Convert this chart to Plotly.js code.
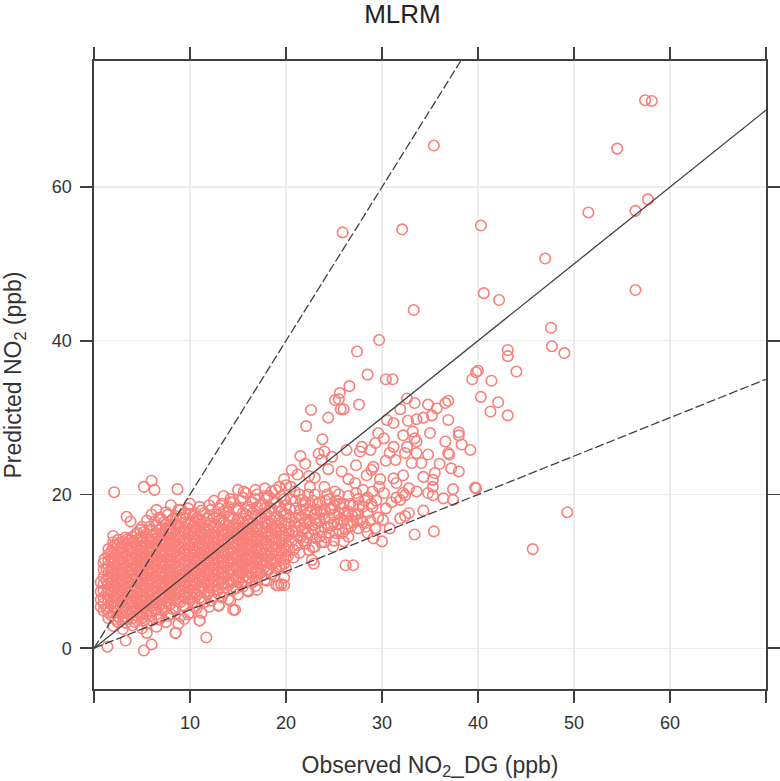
<!DOCTYPE html>
<html><head><meta charset="utf-8">
<script src="https://cdn.plot.ly/plotly-3.0.1.min.js"></script>
<style>html,body{margin:0;padding:0;background:#fff}</style></head>
<body><div id="chart" style="width:780px;height:781px"></div>
<script>
// Dense cloud, read column by column: observed value, then predicted values in that column
const denseObs = [0.7,1,1.5,2,2.5,3,3.5,4,4.5,5,5.5,6,6.5,7,7.5,8,8.5,9,9.5,10,10.5,11,11.5,12,12.5,13,13.5,14,14.5,15,15.5,16,16.5,17,17.5,18,18.5,19,19.5,20];
const densePred = [
[5.4,6.3,7.4,8.6],
[4.9,5.8,6.6,7.5,8.4,9.3,10.2,11.1],
[3.9,4.7,5.4,6.2,6.9,7.7,8.4,9.2,9.9,10.7,11.4,12.2,12.9],
[2.9,4.6,5.4,6.1,6.8,7.5,8.2,8.9,9.6,10.3,11,11.7,12.4,13.1,13.8],
[3.4,4.2,5,5.7,6.4,7.1,7.8,8.5,9.2,9.9,10.6,11.3,12,12.7,13.4,14.1],
[2.5,4.1,4.8,5.5,6.2,6.9,7.6,8.3,9,9.7,10.4,11.1,11.8,12.5,13.2,13.8],
[3.8,4.5,5.2,5.9,6.6,7.3,8,8.7,9.4,10.1,10.8,11.5,12.2,12.9,13.6,14.2],
[3,3.9,4.7,5.4,6.1,6.8,7.5,8.2,8.9,9.6,10.3,11,11.7,12.4,13.1,13.8,14.5],
[3.6,4.3,5,5.7,6.4,7.1,7.8,8.5,9.2,9.9,10.6,11.3,12,12.7,13.4,14.1,15],
[2.6,4,4.7,5.4,6.1,6.8,7.5,8.2,8.9,9.6,10.3,11,11.7,12.4,13.1,13.8,14.5,15.8],
[3.2,4.4,5.1,5.8,6.5,7.2,7.9,8.6,9.3,10,10.7,11.4,12.1,12.8,13.5,14.2,14.9,16.6],
[3.6,4.8,5.5,6.2,6.9,7.6,8.3,9,9.7,10.4,11.1,11.8,12.5,13.2,13.9,14.6,15.4,17.4],
[2.8,4.4,5.2,5.9,6.6,7.3,8,8.7,9.4,10.1,10.8,11.5,12.2,12.9,13.6,14.3,15,16,18],
[4,5,5.7,6.4,7.1,7.8,8.5,9.2,9.9,10.6,11.3,12,12.7,13.4,14.1,14.8,15.6,16.8],
[3.4,5.4,6.1,6.8,7.5,8.2,8.9,9.6,10.3,11,11.7,12.4,13.1,13.8,14.5,15.2,16.2,17.7],
[4.4,5.8,6.5,7.2,7.9,8.6,9.3,10,10.7,11.4,12.1,12.8,13.5,14.2,14.9,15.6,16.6,18.6],
[2,5.2,6.2,6.9,7.6,8.3,9,9.7,10.4,11.1,11.8,12.5,13.2,13.9,14.6,15.3,16.2,17.2],
[4.2,6,6.7,7.4,8.1,8.8,9.5,10.2,10.9,11.6,12.3,13,13.7,14.4,15.1,15.8,16.8,18],
[6.5,7.2,7.9,8.6,9.3,10,10.7,11.4,12.1,12.8,13.5,14.2,14.9,15.6,16.4,17.5],
[4.6,6.3,7,7.7,8.4,9.1,9.8,10.5,11.2,11.9,12.6,13.3,14,14.7,15.4,16.2,17.4,18.8],
[5.4,7.2,7.9,8.6,9.3,10,10.7,11.4,12.1,12.8,13.5,14.2,14.9,15.6,16.5,17.6],
[3.6,6.6,7.4,8.1,8.8,9.5,10.2,10.9,11.6,12.3,13,13.7,14.4,15.1,15.8,16.8,18.4],
[6,7.8,8.5,9.2,9.9,10.6,11.3,12,12.7,13.4,14.1,14.8,15.5,16.4,17.6],
[5.4,7.4,8.2,8.9,9.6,10.3,11,11.7,12.4,13.1,13.8,14.5,15.2,16,17.2,18.6],
[6.8,8.1,8.8,9.5,10.2,10.9,11.6,12.3,13,13.7,14.4,15.1,15.9,17,19.2],
[5.6,7.6,8.5,9.2,9.9,10.6,11.3,12,12.7,13.4,14.1,14.8,15.6,16.6,18.2],
[7.2,8.4,9.1,9.8,10.5,11.2,11.9,12.6,13.3,14,14.7,15.4,16.3,17.8,19.8],
[6.4,8.2,8.9,9.6,10.3,11,11.7,12.4,13.1,13.8,14.5,15.2,16,17.2,18.4],
[5,7.6,8.8,9.5,10.2,10.9,11.6,12.3,13,13.7,14.4,15.1,15.9,16.8,19],
[7,8.6,9.3,10,10.7,11.4,12.1,12.8,13.5,14.2,14.9,15.7,16.8,18.2,20.6],
[8,9.2,9.9,10.6,11.3,12,12.7,13.4,14.1,14.8,15.5,16.4,17.6,19.6],
[7.5,9.2,10,10.7,11.4,12.1,12.8,13.5,14.2,14.9,15.6,16.6,18.4],
[8.6,9.8,10.5,11.2,11.9,12.6,13.3,14,14.7,15.4,16.2,17.6,19],
[7.6,9.2,10.2,11,11.8,12.6,13.4,14.2,15,15.8,16.8,18.4,20],
[9.5,10.8,11.5,12.2,12.9,13.6,14.3,15,15.8,17,18.8],
[8.8,10.2,11.2,12,12.8,13.6,14.4,15.2,16,17.4,19.6],
[9.6,10.9,11.7,12.5,13.3,14.1,14.9,15.7,16.6,18.2,20.4],
[8.2,10.4,11.4,12.3,13.2,14.1,15,15.9,17.2,19],
[8.3,10.8,11.8,12.8,13.7,14.6,15.5,16.4,17.8,19.8],
[10.4,11.6,12.6,13.5,14.4,15.3,16.2,17.4,18.6,21.2]
];
// Second pass over the cloud, columns between the first ones
const fillObs = [1.3,1.8,2.2,2.8,3.3,3.7,4.3,4.8,5.2,5.8,6.3,6.8,7.3,7.7,8.2,8.8,9.3,9.8,10.3,10.7,11.2,11.8,12.2,12.8,13.3,13.7,14.2,14.8,15.3,15.8,16.2,16.8,17.3,17.8,18.2,18.8,19.3,19.8];
const fillPred = [
[5.2,7.1,8.8,10.3],
[4.3,5.8,7.2,8.6,10,11.6,12.6],
[3.8,5.2,6.5,7.9,9.3,10.7,12.1,13.5],
[4.5,5.9,7.3,8.7,10.1,11.5,12.9],
[3.3,4.9,6.3,7.7,9.1,10.5,11.9,13.3,14.4],
[4.4,5.8,7.2,8.6,10,11.4,12.8,14],
[3.4,5.1,6.5,7.9,9.3,10.7,12.1,13.5,14.8],
[4.4,5.8,7.2,8.6,10,11.4,12.8,14.2,15.4],
[3.6,5.2,6.6,8,9.4,10.8,12.2,13.6,15.1],
[4.2,5.8,7.2,8.6,10,11.4,12.8,14.2,15.8],
[5.1,6.5,7.9,9.3,10.7,12.1,13.5,14.9,16.5],
[3.7,5.6,7,8.4,9.8,11.2,12.6,14,15.4,17],
[5,6.4,7.8,9.2,10.6,12,13.4,14.8,16.4],
[4.2,5.9,7.3,8.7,10.1,11.5,12.9,14.3,15.6,17.4],
[5.1,6.8,8.2,9.6,11,12.4,13.8,15.2,16.8],
[3.2,6.2,7.6,9,10.4,11.8,13.2,14.6,16,18],
[5.6,6.9,8.3,9.7,11.1,12.5,13.9,15.3,17],
[4.4,6.5,7.9,9.3,10.7,12.1,13.5,14.9,16.3,18.2],
[6,7.5,8.9,10.3,11.7,13.1,14.5,15.9,17.2],
[5.2,7,8.4,9.8,11.2,12.6,14,15.4,16.9],
[4.6,6.4,7.8,9.2,10.6,12,13.4,14.8,16.2,17.9],
[7,8.5,9.9,11.3,12.7,14.1,15.5,16.9],
[6.2,7.8,9.2,10.6,12,13.4,14.8,16.2,18],
[7.6,8.9,10.3,11.7,13.1,14.5,15.9,17.4],
[6.6,8.4,9.8,11.2,12.6,14,15.4,16.8,18.8],
[7.9,9.3,10.7,12.1,13.5,14.9,16.1,17.6],
[6.2,8.6,10,11.4,12.8,14.2,15.6,17.2,19.4],
[7.8,9.2,10.6,12,13.4,14.8,16.2,18],
[8.5,9.8,11.2,12.6,14,15.4,16.9,19.2],
[8.6,10.4,11.8,13.2,14.6,16,17.4,20.2],
[9.1,10.6,12,13.4,14.8,16.2,18],
[8.1,9.9,11.4,12.8,14.2,15.6,17.2,19.4],
[9.8,11.2,12.6,14,15.4,16.8,18.6],
[8.9,10.6,12.2,13.6,15,16.4,18.2,20.8],
[10.2,11.9,13.4,14.8,16.2,17.8,19.8],
[9.4,11.2,12.8,14.2,15.6,17,18.9],
[10.6,12.2,13.9,15.4,16.8,18.4,21],
[9.2,11,13,14.6,16,17.6,19.4]
];
// Scattered points read individually as [observed, predicted]
const scatteredPoints = [
[2.1,20.3],[5.2,21],[6,21.8],[6.3,20.6],[8.7,20.7],[3.4,17.1],[3.8,16.5],[1.1,11.6],[2,14.6],[1.4,0.2],[5.2,-0.3],[6,0.5],[11.7,1.4],[3.3,1],[5.5,2],[8.5,2],[9.4,3.8],[11,3.6],[14.7,5],[13,5.5],[16.1,7.4],[19.2,8.2],[19.5,8.3],[19.8,8.2],
[14.2,19],[15.6,20.4],[16.8,20.6],[17.8,19.8],[18.9,20.6],[19.8,22],[20.5,21],[21,17],[21,15.2],[21,19.2],[20.8,12.8],[20.6,14],[21.4,20],[21.5,18],[21.5,16],[21.5,14.4],[22,19],[22,17.4],[22,15.6],[22,13.6],[22.4,16.6],[22.5,21],[22.5,18.5],[22.7,14.8],[22.7,11.5],[22.9,11],[23,20],[23,17.4],[23,15.4],[23,13.2],[23.5,19],[23.5,16.5],[23.5,14.5],[24,21],[24,18],[24,15.8],[24,13.8],[24.5,19.4],[24.5,17],[24.5,15],[25,18.6],[25,16.4],[25,14],[25.5,20],[25.5,17.6],[25.5,15.4],[26,18.8],[26,16.6],[26,13.9],[26.5,17.8],[26.5,19.8],[26.5,14.5],[27,16.4],[27,18.6],[27.5,15.6],[27.5,17.5],[27.5,19.4],[28,18.4],[28,20.6],[28,16.4],[28.5,15],[28.5,17.6],[28.5,19.6],[29,18.4],[29,20.4],[29.1,14.3],[29.6,17],[29.7,21],[30,13.9],[30.1,16.7],[30.4,18.2],[30.8,15.6],[31,19],[26.2,10.8],[27,10.8],
[20.3,16.2],[20.4,18.1],[20.7,15.1],[20.9,20.4],[21.2,13.4],[21.3,17.3],[21.7,15.3],[21.8,18.6],[22.2,14.4],[22.3,20],[22.6,17.7],[22.8,13.1],[23.2,16.3],[23.3,18.8],[23.7,15.1],[23.8,17.4],[24.2,14.4],[24.3,20],[24.7,16],[24.8,18.2],[25.2,15],[25.3,19.2],[25.7,16.8],[25.8,18.3],[26.2,15.5],[26.3,17.2],[26.7,18.8],[26.8,15.9],[27.2,17.4],[27.3,20.2],[27.8,16.7],[28.2,19.2],[28.3,15.8],[28.8,16.6],[28.9,18.8],[29.3,15.6],[29.4,19.2],
[20.2,12],[20.3,13.2],[20.3,14.8],[20.4,17],[20.5,19.4],[20.8,11.8],[20.9,16.4],[21,18.2],[21.2,14.6],[21.2,15.8],[21.4,12.4],[21.6,17],[21.7,19.3],[21.8,14],[22,16.4],[22.1,18],[22.3,15],[22.4,12.8],[22.7,16],[22.8,19.2],[23.1,14.3],[23.1,16.9],[23.2,18],[23.6,17.8],[23.7,13.8],[24,16.9],[24.1,19.2],[24.4,15.7],[24.6,18],[24.9,13.2],[25,17.4],[25.1,20.4],[25.4,16.1],[25.6,18.8],[25.9,15],[26.1,17.6],[26.4,16.2],[26.9,17.2],[27.4,16.6],[27.6,18.6],

[29.7,40.1],[27.4,38.6],[28.5,35.6],[30.4,35],[31.1,35],[26.6,34.1],[25.6,33.2],[25.1,32.3],[25.5,32.4],[26,31.1],[25.7,31.1],[27.6,31.7],[22.6,31],[24.4,30],[22.1,28.9],[23.8,27.2],[21.5,25],[23.4,25.3],[24.8,24.9],[23.7,24.5],[26.3,25.8],[27.9,26.2],[27.7,25.6],[28.8,25.8],[29.6,28],[30.2,27.3],[29.3,26.7],[32.6,32.5],[33.4,31.9],[31.9,31.1],[34.8,31.7],[36.6,31.9],[36.9,32.2],[35.7,31.2],[35.2,30.3],[36.9,29.7],[34.3,30],[33.6,29.8],[32.7,29.6],[31.2,29.3],[30.5,29.7],[35,28],[38,28.1],[38,27.7],[36.6,26.9],[38.3,26.5],[39.2,25.8],[36.9,25.4],[37,25.2],[34.8,25.2],[33.6,26.9],[33.4,27.3],[33.2,28.2],[32.2,27.7],[32.6,26.2],[32.4,25.4],[33.1,24.1],[34.1,24.1],[33.6,25.4],[31.2,26.2],[30.8,25.4],[31.4,24.5],[30.4,24.4],[27.3,23.8],[25.8,23],[29.1,23.6],[28.9,23.2],[36,24],[37.2,23.4],[38,23],[32.2,22.5],[34.3,22.3],[35.5,22.8],[35.3,21.9],[31.2,22.1],[31.5,21.5],[27.2,21.5],[39.7,20.9],[37.4,20.7],[35.3,21],[35.3,19.9],[36.4,19.5],[37.4,19.3],[34.3,17.9],[33.4,14.8],[35.4,15.2],[31.9,19.3],[31.5,19.6],[32.4,19.9],[32.2,20.2],[32.8,17.6],[32.4,17.2],[31.9,16.9],[32.8,20.8],[33.6,20.4],[34.8,20.2],[24.4,23.3],[22.4,22.4],[21.2,22.6],[20.6,23.2],[23,22.2],[26.5,22],[28.4,22.5],[29.8,22],[30.2,20.2],[24,25.6],[22,24],
[35.4,65.4],[25.9,54.1],[32.1,54.5],[40.3,55],[54.5,65],[57.4,71.3],[58.1,71.2],[51.5,56.7],[56.4,56.9],[57.7,58.4],[47,50.7],[40.6,46.2],[42.2,45.3],[56.4,46.6],[33.3,44],[47.6,41.7],[47.7,39.3],[49,38.4],[43.1,38.8],[43.1,38],[44,36],[40,36.1],[39.8,35.9],[39.4,35],[40.3,32.7],[41.4,34.8],[42.1,32],[41.3,30.8],[43.1,30.3],[49.3,17.7],[45.7,12.9],[39.8,20.8]
];
// Reference lines: 1:1, 2:1 and 1:2
const lineObs = [0,70];
const onePred = [0,70];
const doubleObs = [0,38.2];
const doublePred = [0,76.4];
const halfPred = [0,35];
// Axis ticks
const xTicks = [0,10,20,30,40,50,60,70];
const xTickText = ['','10','20','30','40','50','60',''];
const yTicks = [0,20,40,60];
const yTickText = ['0','20','40','60'];

const xs=[], ys=[];
denseObs.forEach((x,i)=>densePred[i].forEach(y=>{xs.push(x);ys.push(y);}));
fillObs.forEach((x,i)=>fillPred[i].forEach(y=>{xs.push(x);ys.push(y);}));
scatteredPoints.forEach(p=>{xs.push(p[0]);ys.push(p[1]);});

const lineStyle = (dash)=>({color:'#404040',width:1.3,dash:dash});
const traces=[
 {type:'scatter',mode:'markers',x:xs,y:ys,hoverinfo:'skip',
  marker:{symbol:'circle-open',size:10.5,color:'#F9807A',line:{color:'#F9807A',width:1.6}}},
 {type:'scatter',mode:'lines',x:lineObs,y:onePred,line:lineStyle('solid')},
 {type:'scatter',mode:'lines',x:doubleObs,y:doublePred,line:lineStyle('9px,3px')},
 {type:'scatter',mode:'lines',x:lineObs,y:halfPred,line:lineStyle('9px,3px')}
];
const tickFont={family:'"Liberation Sans",Arial,sans-serif',size:18,color:'#333'};
const axisCommon={showline:true,linecolor:'#404040',linewidth:1.6,mirror:'allticks',ticks:'outside',ticklen:12,tickwidth:1.6,tickcolor:'#404040',
 showgrid:true,gridcolor:'#EDEDED',gridwidth:1.2,zeroline:false,tickfont:tickFont,tickmode:'array',ticklabelstandoff:5};
const layout={
 width:780,height:781,showlegend:false,paper_bgcolor:'#fff',plot_bgcolor:'#fff',
 margin:{l:94,r:14,t:61,b:92},
 font:{family:'"Liberation Sans",Arial,sans-serif',color:'#333'},
 title:{text:'MLRM',font:{size:26,color:'#222'},x:0.516,xanchor:'center',y:0.982,yanchor:'middle'},
 xaxis:Object.assign({},axisCommon,{range:[0,70],tickvals:xTicks,ticktext:xTickText,
   title:{text:'Observed NO<sub>2</sub>_DG (ppb)',font:{size:23,color:'#333'},standoff:24}}),
 yaxis:Object.assign({},axisCommon,{range:[-5.3,76.4],tickvals:yTicks,ticktext:yTickText,
   title:{text:'Predicted NO<sub>2</sub> (ppb)',font:{size:23,color:'#333'},standoff:24}})
};
Plotly.newPlot('chart',traces,layout,{displayModeBar:false,staticPlot:true});
</script></body></html>
